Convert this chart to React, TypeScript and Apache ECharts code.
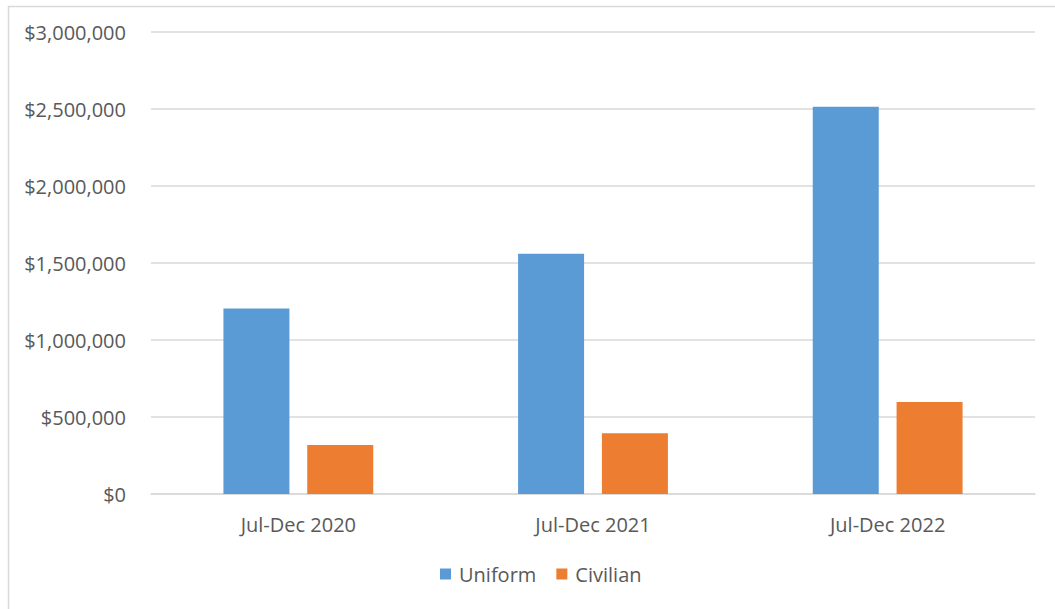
import React, { useEffect, useRef } from "react";
import * as echarts from "echarts";

const categories = ["Jul-Dec 2020", "Jul-Dec 2021", "Jul-Dec 2022"];
const uniformValues = [1205000, 1560000, 2515000];
const civilianValues = [318000, 394000, 597000];
const seriesNames = ["Uniform", "Civilian"];

export default function App() {
  const ref = useRef<HTMLDivElement>(null);
  useEffect(() => {
    if (!ref.current) return;
    const chart = echarts.init(ref.current, undefined, { renderer: "svg" });
    const font = "'Open Sans', sans-serif";
    const textColor = "#595959";
    chart.setOption({
      animation: false,
      backgroundColor: "#ffffff",
      graphic: [
        {
          type: "rect",
          left: 6,
          top: 4,
          shape: { x: 0, y: 0, width: 1200, height: 800 },
          style: { fill: "none", stroke: "#d9d9d9", lineWidth: 1.5 },
          silent: true,
        },
      ],
      grid: { left: 151, top: 32, right: 20, bottom: 115, containLabel: false },
      legend: {
        left: 440,
        top: 564,
        padding: 0,
        itemWidth: 11,
        itemHeight: 11,
        itemGap: 20,
        icon: "rect",
        textStyle: { color: textColor, fontSize: 20, fontFamily: font, padding: [0, 0, 0, 3] },
        data: seriesNames,
      },
      xAxis: {
        type: "category",
        data: categories,
        axisLine: { show: true, lineStyle: { color: "#d9d9d9", width: 1.5 } },
        axisTick: { show: false },
        axisLabel: { color: textColor, fontSize: 20, fontFamily: font, margin: 20 },
      },
      yAxis: {
        type: "value",
        min: 0,
        max: 3000000,
        interval: 500000,
        axisLine: { show: false },
        axisTick: { show: false },
        splitLine: { lineStyle: { color: "#d9d9d9", width: 1.5 } },
        axisLabel: {
          color: textColor,
          fontSize: 20,
          fontFamily: font,
          margin: 25,
          formatter: (v: number) => "$" + v.toLocaleString("en-US"),
        },
      },
      series: [
        {
          name: seriesNames[0],
          type: "bar",
          data: uniformValues,
          barWidth: 66,
          barGap: "27%",
          itemStyle: { color: "#5b9bd5" },
        },
        {
          name: seriesNames[1],
          type: "bar",
          data: civilianValues,
          barWidth: 66,
          barGap: "27%",
          itemStyle: { color: "#ed7d31" },
        },
      ],
    });
    return () => chart.dispose();
  }, []);
  return (
    <div style={{ position: "fixed", left: 0, top: 0, width: 1055, height: 609, overflow: "hidden", background: "#fff" }}>
      <div ref={ref} style={{ width: 1055, height: 609 }} />
    </div>
  );
}
